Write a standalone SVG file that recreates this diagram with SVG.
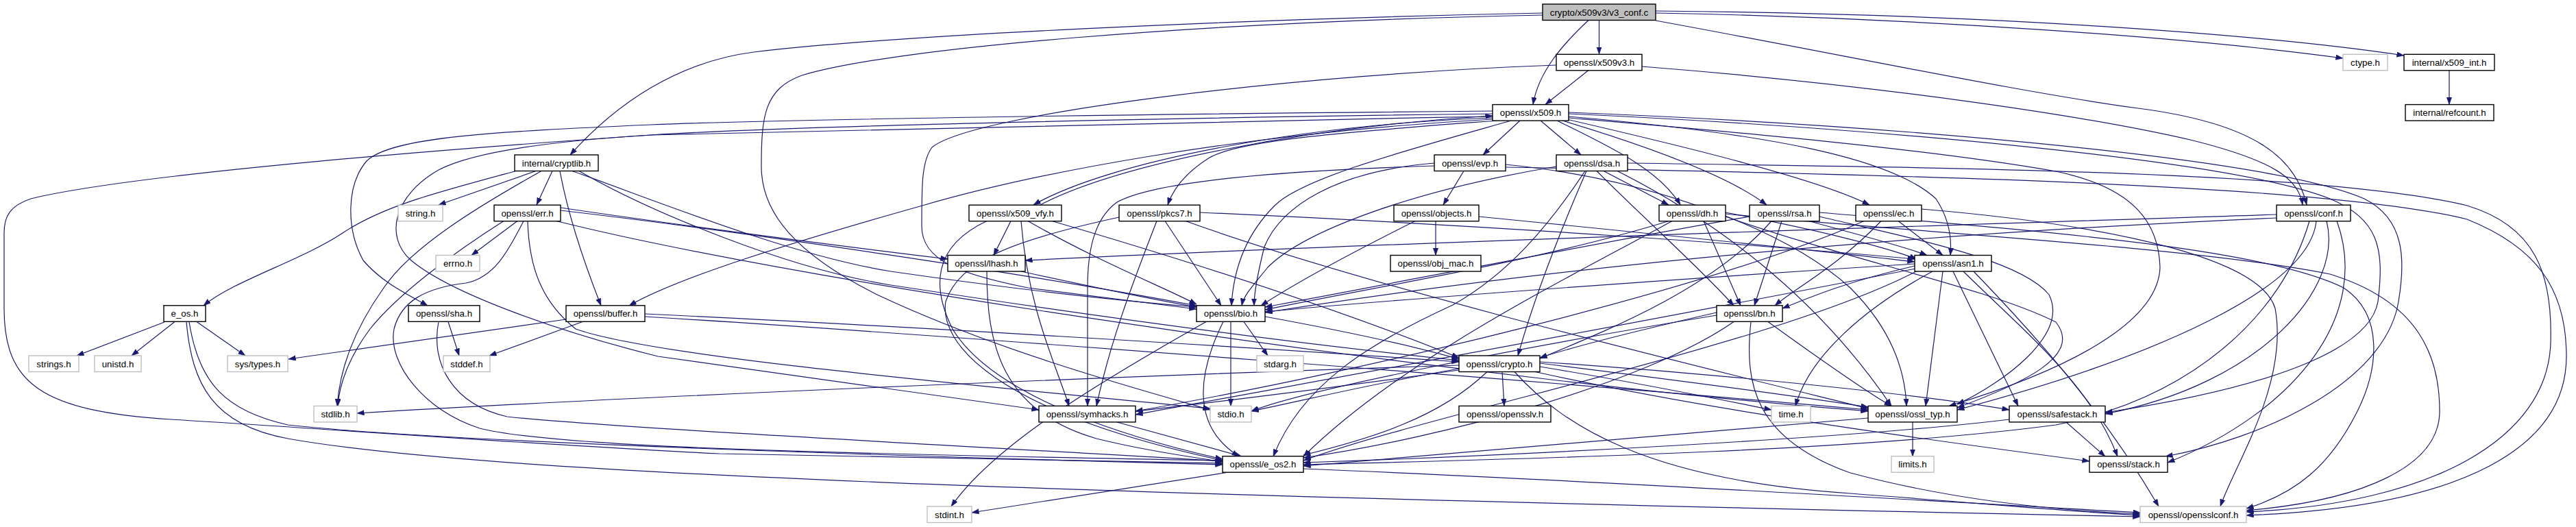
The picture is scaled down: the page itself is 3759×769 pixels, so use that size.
<svg xmlns="http://www.w3.org/2000/svg" width="3759" height="769" viewBox="0 0 3759 769">
<style>
.n rect{fill:#fff;stroke:#000;stroke-width:1.4}
.g rect{fill:#fff;stroke:#bfbfbf;stroke-width:1.4}
.r rect{fill:#bfbfbf;stroke:#000;stroke-width:1.4}
text{font-family:"Liberation Sans",Arial,Helvetica,sans-serif;font-size:13.3px;text-anchor:middle;fill:#000}
#edges path{fill:none;stroke:#191970;stroke-width:1.2;marker-end:url(#a)}
</style>
<defs>
<marker id="a" markerUnits="userSpaceOnUse" markerWidth="11" markerHeight="8" refX="10.5" refY="3.75" orient="auto">
<path d="M0,0 L10.5,3.75 L0,7.5 z" fill="#191970" stroke="#191970" stroke-width="0.5"/>
</marker>
</defs>
<rect width="3759" height="769" fill="#fff"/>
<g id="edges">
<path d="M2333.5,29.5 L2333.5,79"/>
<path d="M2318,29.5 C2280,65 2245,105 2237,152.5"/>
<path d="M2251,19 C1800,28 1300,52 1100,76 C990,90 900,150 832,226"/>
<path d="M2251,22 C1750,32 1300,70 1170,110 C1115,130 1111,170 1111,243 C1111,310 1160,370 1280,430 C1450,510 1650,565 1766,598"/>
<path d="M2416,19 C2800,26 3200,55 3419,85"/>
<path d="M2416,16 C2900,20 3300,50 3508,81"/>
<path d="M2416,30 C2700,82 2950,135 3120,158 C3290,180 3350,230 3366,299"/>
<path d="M2318,102.5 L2255,152.5"/>
<path d="M2271,95 C1900,108 1420,165 1360,215 C1345,235 1345,270 1345,330 C1345,380 1400,400 1500,420 L1746,451"/>
<path d="M2396,97 C2750,125 3050,170 3200,205 C3320,235 3355,262 3360,299"/>
<path d="M3574,102.5 L3574,152.5"/>
<path d="M2178,166 C1700,172 1150,184 950,197 C700,214 200,252 45,290 C15,300 6,315 6,340 L6,450 C6,560 60,600 250,612 C450,624 800,650 1050,662 L1784,676"/>
<path d="M2178,162 C1700,166 1150,174 950,182 C720,192 570,200 535,235 C505,270 505,335 530,380 C560,415 600,432 624,446"/>
<path d="M2178,170 C1650,178 1100,190 950,197 C800,206 690,222 640,248 C575,285 560,345 600,380 C660,430 820,485 960,520 L1516,598"/>
<path d="M2178,174 C1800,195 1500,255 1346,300 C1150,355 990,405 918,446"/>
<path d="M2218,176 L2164,226"/>
<path d="M2248,176 L2307,226"/>
<path d="M2272,176 C2340,210 2420,245 2452,299"/>
<path d="M2280,176 C2400,212 2520,255 2578,299"/>
<path d="M2286,174 C2450,212 2650,260 2728,299"/>
<path d="M2289,170 C2580,195 2760,230 2825,290 C2845,320 2848,350 2846,372.5"/>
<path d="M2178,172 C1900,182 1620,235 1508,299"/>
<path d="M1518,299 C1630,240 1900,186 2178,169"/>
<path d="M2185,176 C2000,190 1810,203 1765,230 C1730,252 1712,275 1704,299"/>
<path d="M2205,176 C2050,220 1900,260 1860,300 C1820,340 1800,390 1797,446"/>
<path d="M2289,172 C2500,190 2800,215 3000,250 C3120,275 3150,330 3152,390 C3150,460 3050,530 2844,592.5"/>
<path d="M2289,166 C2700,185 3250,230 3400,290 C3470,320 3480,360 3470,440 C3460,500 3350,560 3072,602"/>
<path d="M2289,164 C2700,180 3300,225 3450,290 C3510,320 3510,380 3500,440 C3480,560 3300,640 3160,666"/>
<path d="M782,249.5 L640,299"/>
<path d="M806,249.5 L783,299"/>
<path d="M755,249 C640,280 560,300 500,340 C440,380 340,410 297,446"/>
<path d="M790,249.5 C700,300 600,360 560,420 C510,490 495,550 492,592.5"/>
<path d="M817,249.5 C830,320 855,390 877,446"/>
<path d="M835,249.5 C950,290 1150,372 1300,396 C1500,425 1650,440 1746,448"/>
<path d="M845,249.5 C950,310 1150,392 1300,416 C1600,462 1900,502 2129,526"/>
<path d="M755,322.5 L688,372.5"/>
<path d="M735,322.5 C660,370 580,430 540,480 C510,520 495,560 493,592.5"/>
<path d="M764,322.5 C740,370 720,405 680,413 C620,420 585,440 575,480 C565,530 620,600 700,625 C800,650 1100,660 1784,672"/>
<path d="M770,322.5 C772,390 790,440 840,480 C950,520 1400,560 1766,596"/>
<path d="M818,307 C1100,340 1500,400 1746,446"/>
<path d="M818,303 C1000,330 1250,362 1383,378"/>
<path d="M812,322.5 C1200,420 2200,560 2726,600"/>
<path d="M240,470 L112,519"/>
<path d="M255,469.5 L192,519"/>
<path d="M287,469.5 L358,519"/>
<path d="M276,469.5 C290,560 330,600 420,620 C600,640 1100,660 1784,678"/>
<path d="M272,469.5 C280,560 310,620 420,640 C700,690 1500,720 3123,754"/>
<path d="M654,469.5 L670,519"/>
<path d="M640,469.5 C628,530 660,590 740,608 C900,625 1400,650 1784,673"/>
<path d="M826,466 L421,524"/>
<path d="M850,469.5 L714,519"/>
<path d="M941,458 C1300,475 1800,505 2129,528"/>
<path d="M941,462 C1400,490 2300,560 2726,598"/>
<path d="M2136,249.5 L2106,299"/>
<path d="M2093,238 C1950,250 1870,300 1845,360 C1835,400 1830,425 1830,446"/>
<path d="M2093,242 C1900,248 1690,262 1630,295 C1595,320 1587,370 1587,420 L1587,592.5"/>
<path d="M2197,240 C2400,260 2600,330 2700,420 C2760,480 2780,540 2782,592.5"/>
<path d="M2197,244 C2800,255 3400,270 3600,320 C3700,360 3745,420 3745,520 C3745,650 3600,740 3278,752"/>
<path d="M2095,322.5 L2095,372.5"/>
<path d="M2065,322.5 C1950,380 1880,420 1840,446"/>
<path d="M2158,316 C2400,340 2650,365 2794,382"/>
<path d="M2340,249.5 L2435,299"/>
<path d="M2330,249.5 C2400,320 2480,390 2530,446"/>
<path d="M2271,243 C2050,280 1900,340 1850,390 C1830,415 1815,430 1812,446"/>
<path d="M2315,249.5 C2280,330 2240,430 2215,519"/>
<path d="M2313,249.5 C2260,330 2200,400 2120,445 C2000,500 1900,560 1858,666"/>
<path d="M2360,249.5 C2500,320 2650,430 2760,592.5"/>
<path d="M2375,238 C2900,245 3400,252 3600,300 C3700,330 3725,400 3722,500 C3718,640 3550,735 3278,747"/>
<path d="M2486,322.5 L2540,446"/>
<path d="M2435,322.5 C2250,380 2000,420 1846,452"/>
<path d="M2518,310 C2650,335 2750,360 2797,378"/>
<path d="M2440,322.5 C2300,400 2050,520 1902,666"/>
<path d="M2518,316 C2700,380 2900,420 3000,470 C3040,520 2950,560 2856,595"/>
<path d="M2518,312 C2800,340 3200,360 3400,400 C3530,440 3560,520 3560,600 C3560,680 3450,730 3278,745"/>
<path d="M2600,322.5 L2560,446"/>
<path d="M2640,322.5 C2720,345 2780,360 2812,372.5"/>
<path d="M2553,316 C2300,360 2000,420 1846,448"/>
<path d="M2585,322.5 C2500,420 2350,480 2247,523"/>
<path d="M2655,316 C2800,350 2950,380 2990,430 C3020,490 2920,560 2856,590"/>
<path d="M2655,310 C2950,335 3300,360 3420,420 C3480,460 3470,540 3440,600 C3400,680 3350,720 3278,742"/>
<path d="M2770,322.5 L2835,372.5"/>
<path d="M2745,322.5 C2680,390 2620,420 2590,446"/>
<path d="M2720,322.5 C2500,420 2000,540 1657,600"/>
<path d="M2804,305 C3100,330 3300,380 3320,450 C3340,560 3260,680 3240,739"/>
<path d="M3322,313 C2800,330 2000,355 1496,380"/>
<path d="M3322,318 C2700,345 2200,400 1846,456"/>
<path d="M3370,322.5 C3330,460 3200,580 3000,620 C2700,660 2200,670 1902,678"/>
<path d="M3380,322.5 C3370,420 3150,520 2856,598"/>
<path d="M3395,322.5 C3420,420 3300,560 3072,604"/>
<path d="M3410,322.5 C3460,460 3350,600 3163,675"/>
<path d="M1475,322.5 L1450,372.5"/>
<path d="M1500,322.5 C1600,380 1700,420 1746,444"/>
<path d="M1535,322.5 C1800,400 2000,470 2129,522"/>
<path d="M1490,322.5 C1500,450 1540,530 1560,592.5"/>
<path d="M1440,322.5 C1360,360 1360,420 1390,480 C1450,580 1650,640 1784,670"/>
<path d="M1700,322.5 L1782,446"/>
<path d="M1688,322.5 C1650,420 1620,500 1600,592.5"/>
<path d="M1751,310 C2200,330 2600,360 2794,378"/>
<path d="M1730,322.5 C2000,420 2500,540 2726,596"/>
<path d="M1633,317 C1480,350 1400,380 1380,440 C1370,500 1450,600 1784,672"/>
<path d="M1490,396 C1600,420 1700,440 1746,448"/>
<path d="M1440,396 C1440,500 1460,600 1600,640 C1680,660 1750,668 1784,674"/>
<path d="M2794,388 C2700,410 2650,430 2601,450"/>
<path d="M2820,396 C2720,450 2640,520 2620,592.5"/>
<path d="M2794,385 C2400,410 2000,440 1846,455"/>
<path d="M2800,394 C2600,500 2100,600 1902,672"/>
<path d="M2795,392 C2400,470 1900,560 1657,605"/>
<path d="M2835,396 L2810,592.5"/>
<path d="M2850,396 C2890,480 2920,540 2945,592.5"/>
<path d="M2865,396 C2950,480 3050,560 3090,666"/>
<path d="M2880,396 C3000,520 3080,620 3150,739"/>
<path d="M2505,456 C2400,480 2300,505 2247,522"/>
<path d="M2505,460 C2200,510 1900,570 1826,600"/>
<path d="M2530,469.5 C2400,560 2100,640 1902,668"/>
<path d="M2580,469.5 C2650,520 2720,570 2760,592.5"/>
<path d="M2555,469.5 C2545,560 2560,640 2700,690 C2850,730 3000,745 3123,750"/>
<path d="M2192,542.5 L2195,592.5"/>
<path d="M2129,533 C1600,550 900,580 521,603"/>
<path d="M2129,538 C2000,560 1900,585 1826,600"/>
<path d="M2129,540 C1950,565 1750,590 1657,600"/>
<path d="M2170,542.5 C2100,610 2000,640 1902,664"/>
<path d="M2247,535 C2400,560 2520,585 2585,598"/>
<path d="M2247,530 C2450,555 2620,578 2726,594"/>
<path d="M2247,528 C2500,545 2800,575 2932,598"/>
<path d="M2240,542.5 C2500,600 2800,640 3049,673"/>
<path d="M2210,542.5 C2280,620 2400,700 2700,720 C2900,735 3000,745 3123,752"/>
<path d="M1796,469.5 L1796,592.5"/>
<path d="M1815,469.5 L1850,519"/>
<path d="M1785,469.5 C1750,540 1735,620 1808,666"/>
<path d="M1760,469.5 C1600,560 1450,650 1388,739"/>
<path d="M1846,462 C2000,490 2080,510 2129,524"/>
<path d="M1630,616 L1812,666"/>
<path d="M3015,616 L3072,666"/>
<path d="M2932,612 C2700,640 2200,665 1902,675"/>
<path d="M2791,616 L2791,666"/>
<path d="M2726,610 C2400,640 2100,665 1902,680"/>
<path d="M1902,684 C2300,700 2800,730 3123,748"/>
<path d="M1790,689.5 L1418,748"/>
</g>
<g id="R" class="r"><rect x="2251" y="6" width="165" height="23.5"/><text x="2333.5" y="22.5">crypto/x509v3/v3_conf.c</text></g>
<g id="V" class="n"><rect x="2271" y="79.3" width="125" height="23.5"/><text x="2333.5" y="95.8">openssl/x509v3.h</text></g>
<g id="CT" class="g"><rect x="3419" y="79.3" width="65" height="23.5"/><text x="3451.5" y="95.8">ctype.h</text></g>
<g id="XI" class="n"><rect x="3508" y="79.3" width="132" height="23.5"/><text x="3574" y="95.8">internal/x509_int.h</text></g>
<g id="X" class="n"><rect x="2178" y="152.6" width="111" height="23.5"/><text x="2233.5" y="169.1">openssl/x509.h</text></g>
<g id="RC" class="n"><rect x="3510" y="152.6" width="129" height="23.5"/><text x="3574.5" y="169.1">internal/refcount.h</text></g>
<g id="CL" class="n"><rect x="751" y="226" width="122" height="23.5"/><text x="812" y="242.5">internal/cryptlib.h</text></g>
<g id="EVP" class="n"><rect x="2093" y="226" width="104" height="23.5"/><text x="2145" y="242.5">openssl/evp.h</text></g>
<g id="DSA" class="n"><rect x="2271" y="226" width="104" height="23.5"/><text x="2323" y="242.5">openssl/dsa.h</text></g>
<g id="STR" class="g"><rect x="581" y="299.2" width="65" height="23.5"/><text x="613.5" y="315.7">string.h</text></g>
<g id="ERR" class="n"><rect x="721" y="299.2" width="97" height="23.5"/><text x="769.5" y="315.7">openssl/err.h</text></g>
<g id="VFY" class="n"><rect x="1414" y="299.2" width="135" height="23.5"/><text x="1481.5" y="315.7">openssl/x509_vfy.h</text></g>
<g id="P7" class="n"><rect x="1633" y="299.2" width="118" height="23.5"/><text x="1692" y="315.7">openssl/pkcs7.h</text></g>
<g id="OBJ" class="n"><rect x="2034" y="299.2" width="124" height="23.5"/><text x="2096" y="315.7">openssl/objects.h</text></g>
<g id="DH" class="n"><rect x="2421" y="299.2" width="97" height="23.5"/><text x="2469.5" y="315.7">openssl/dh.h</text></g>
<g id="RSA" class="n"><rect x="2553" y="299.2" width="102" height="23.5"/><text x="2604" y="315.7">openssl/rsa.h</text></g>
<g id="EC" class="n"><rect x="2708" y="299.2" width="96" height="23.5"/><text x="2756" y="315.7">openssl/ec.h</text></g>
<g id="CONF" class="n"><rect x="3322" y="299.2" width="108" height="23.5"/><text x="3376" y="315.7">openssl/conf.h</text></g>
<g id="ERRNO" class="g"><rect x="636" y="372.5" width="64" height="23.5"/><text x="668" y="389">errno.h</text></g>
<g id="LH" class="n"><rect x="1383" y="372.5" width="113" height="23.5"/><text x="1439.5" y="389">openssl/lhash.h</text></g>
<g id="OM" class="n"><rect x="2029" y="372.5" width="132" height="23.5"/><text x="2095" y="389">openssl/obj_mac.h</text></g>
<g id="ASN1" class="n"><rect x="2794" y="372.5" width="112" height="23.5"/><text x="2850" y="389">openssl/asn1.h</text></g>
<g id="EOS" class="n"><rect x="239" y="445.8" width="61" height="23.5"/><text x="269.5" y="462.3">e_os.h</text></g>
<g id="SHA" class="n"><rect x="596" y="445.8" width="104" height="23.5"/><text x="648" y="462.3">openssl/sha.h</text></g>
<g id="BUF" class="n"><rect x="826" y="445.8" width="115" height="23.5"/><text x="883.5" y="462.3">openssl/buffer.h</text></g>
<g id="BIO" class="n"><rect x="1746" y="445.8" width="100" height="23.5"/><text x="1796" y="462.3">openssl/bio.h</text></g>
<g id="BN" class="n"><rect x="2505" y="445.8" width="96" height="23.5"/><text x="2553" y="462.3">openssl/bn.h</text></g>
<g id="STRS" class="g"><rect x="42" y="519" width="73" height="23.5"/><text x="78.5" y="535.5">strings.h</text></g>
<g id="UNI" class="g"><rect x="138" y="519" width="68" height="23.5"/><text x="172" y="535.5">unistd.h</text></g>
<g id="SYS" class="g"><rect x="332" y="519" width="88" height="23.5"/><text x="376" y="535.5">sys/types.h</text></g>
<g id="STDDEF" class="g"><rect x="647" y="519" width="68" height="23.5"/><text x="681" y="535.5">stddef.h</text></g>
<g id="STDARG" class="g"><rect x="1834" y="519" width="68" height="23.5"/><text x="1868" y="535.5">stdarg.h</text></g>
<g id="CR" class="n"><rect x="2129" y="519" width="118" height="23.5"/><text x="2188" y="535.5">openssl/crypto.h</text></g>
<g id="STDLIB" class="g"><rect x="458" y="592.4" width="63" height="23.5"/><text x="489.5" y="608.9">stdlib.h</text></g>
<g id="SYM" class="n"><rect x="1516" y="592.4" width="141" height="23.5"/><text x="1586.5" y="608.9">openssl/symhacks.h</text></g>
<g id="STDIO" class="g"><rect x="1766" y="592.4" width="60" height="23.5"/><text x="1796" y="608.9">stdio.h</text></g>
<g id="OV" class="n"><rect x="2129" y="592.4" width="134" height="23.5"/><text x="2196" y="608.9">openssl/opensslv.h</text></g>
<g id="TIME" class="g"><rect x="2585" y="592.4" width="57" height="23.5"/><text x="2613.5" y="608.9">time.h</text></g>
<g id="OT" class="n"><rect x="2726" y="592.4" width="130" height="23.5"/><text x="2791" y="608.9">openssl/ossl_typ.h</text></g>
<g id="SS" class="n"><rect x="2932" y="592.4" width="140" height="23.5"/><text x="3002" y="608.9">openssl/safestack.h</text></g>
<g id="E2" class="n"><rect x="1784" y="665.7" width="118" height="23.5"/><text x="1843" y="682.2">openssl/e_os2.h</text></g>
<g id="LIM" class="g"><rect x="2760" y="665.7" width="62" height="23.5"/><text x="2791" y="682.2">limits.h</text></g>
<g id="STK" class="n"><rect x="3049" y="665.7" width="114" height="23.5"/><text x="3106" y="682.2">openssl/stack.h</text></g>
<g id="SI" class="g"><rect x="1353" y="739" width="65" height="23.5"/><text x="1385.5" y="755.5">stdint.h</text></g>
<g id="OC" class="g"><rect x="3123" y="739" width="155" height="23.5"/><text x="3200.5" y="755.5">openssl/opensslconf.h</text></g>
</svg>
